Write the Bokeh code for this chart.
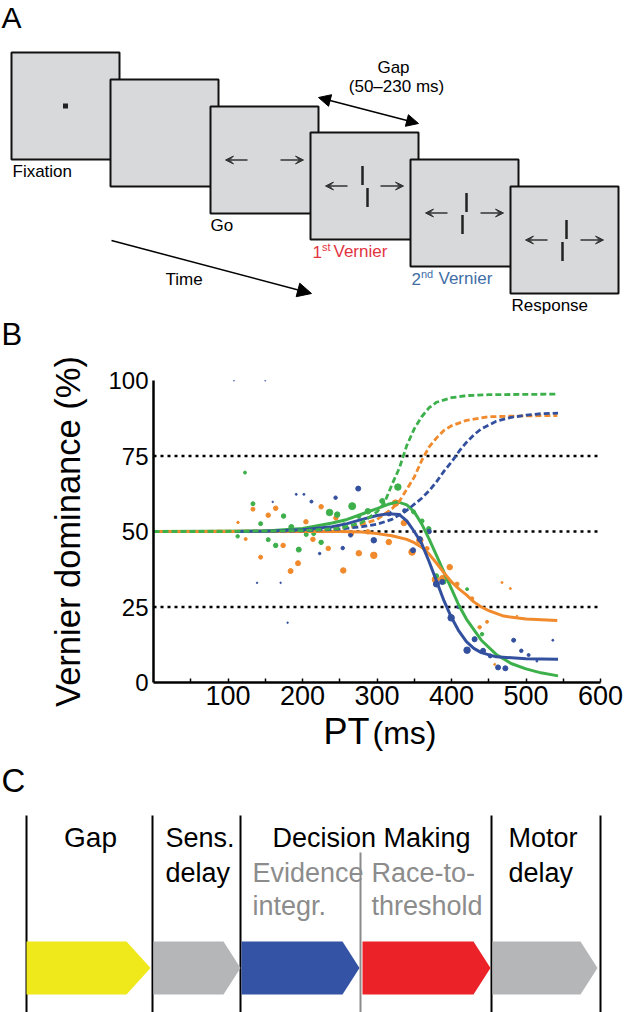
from bokeh.plotting import figure
from bokeh.models import Range1d, FixedTicker, Arrow, NormalHead, VeeHead
from bokeh.core.properties import value
from bokeh.embed import file_html
from bokeh.resources import INLINE

FONT = "Liberation Sans"
ORANGE = "#F08A2C"
GREEN = "#3DB04B"
BLUE = "#33509F"
W = 638

# ---------------- Panel B data ----------------
green_pt_x = [113, 122.8, 133.5, 143.8, 154, 164, 174.6, 185, 195, 205, 215, 225, 236.3, 246.6, 255.5,
              266.7, 275.6, 287.7, 307, 328, 349, 360.5, 369.5, 379.7, 389.6, 399.5, 420.9, 431, 441]
green_pt_y = [48.4, 69.5, 59.2, 52.6, 47.3, 45.4, 55.1, 51.5, 44, 49, 49.3, 46.4, 56.3, 55.6, 52.3,
              58.4, 55, 56.7, 60.1, 64.7, 56.5, 53.5, 50.9, 35.3, 33.3, 21.6, 30.9, 14.5, 16]
green_pt_s = [3.5, 3, 4, 4, 4, 4.5, 4.5, 5, 5, 4, 4, 4.5, 6.5, 5.5, 3.5,
              7, 4, 5.5, 5, 6.5, 4, 4, 4.5, 4.5, 4.5, 5, 3, 4, 3.5]

orange_pt_x = [113.4, 123.7, 133.5, 143.8, 154, 164, 174, 184, 194, 204.6, 214, 225, 234.6, 244.8,
               254.7, 265.4, 275.6, 287.7, 295.7, 315.8, 324.8, 336, 347, 357.5, 367.3, 378.4, 388.2,
               397.6, 407.5, 427.6, 437.8, 447.7, 458, 467.8, 479, 487.8]
orange_pt_y = [53, 47.5, 57.4, 41.5, 55.4, 57.7, 45.4, 36.9, 39.5, 53.2, 47.4, 58.2, 44.4, 54.5,
               37.1, 49.3, 42.8, 49.9, 42.1, 46.5, 59.4, 52.8, 43.2, 47.1, 44.4, 34.1, 34.4,
               38.2, 32.6, 27.8, 18.3, 20.1, 6, 33.1, 31.1, 22]
orange_pt_s = [2.5, 3, 4, 4, 4.5, 4.5, 4.5, 5, 5, 4.5, 4.5, 4.5, 4.5, 4.5,
               5.5, 5, 5.5, 4.5, 6.5, 5.5, 6.5, 5.5, 6.5, 6.5, 4, 6.5, 6.5,
               5.5, 4, 3.5, 3.5, 3, 2, 2, 2, 1.5]

blue_pt_x = [108, 150, 139, 170.6, 180, 160, 191.6, 201.9, 212, 223, 244.4, 254, 264.5, 274.8, 295.7,
             316, 337, 348.4, 357.5, 370, 379.7, 387.4, 399.5, 409.7, 420.9, 431, 442.4, 452, 462.5,
             472.3, 483.4, 493.7, 503.5, 514.6, 536]
blue_pt_y = [100, 100, 33, 33, 19.8, 59.8, 62.3, 62.3, 59.9, 42.7, 61.2, 44.5, 48.8, 64.2, 47.1,
             56, 56.9, 43.8, 47.5, 50, 32.6, 33.3, 21.4, 25.1, 10.7, 14.3, 10.5, 8.8, 5,
             4.7, 14, 10.5, 9.1, 7.1, 14]
blue_pt_s = [1.2, 1.2, 1.5, 1.5, 1.5, 1.5, 2, 2, 3, 2.5, 3.5, 3.5, 4, 5, 5.5,
             5, 4, 5, 5, 4.5, 6, 5, 6.5, 4, 6.5, 5, 5, 4, 5,
             5, 4, 3.5, 3, 2, 2]

green_solid_x = [0, 150, 200, 240, 260, 280, 300, 315, 328, 340, 350, 360, 370, 380, 390, 400, 410,
                 420, 430, 440, 460, 480, 500, 520, 543]
green_solid_y = [50, 50.2, 51, 52.8, 54, 55.8, 57.6, 59, 59.8, 58.8, 56.5, 52.5, 47.5, 42, 36.5, 31,
                 25.5, 21, 17.5, 14, 9.3, 6.3, 4.5, 3.2, 2.2]
orange_solid_x = [0, 250, 280, 300, 320, 340, 350, 360, 370, 380, 390, 400, 410, 420, 430, 440, 450,
                  470, 500, 542]
orange_solid_y = [50, 50, 49.8, 49.3, 48.6, 47.4, 46.3, 44.8, 42.5, 39.5, 36.3, 33.3, 31, 29, 26.7,
                  25, 23.8, 22, 21, 20.5]
blue_solid_x = [110, 150, 200, 240, 260, 280, 300, 315, 330, 340, 350, 360, 370, 380, 390, 400, 410,
                420, 430, 440, 460, 500, 543]
blue_solid_y = [50, 50.1, 50.6, 51.6, 52.6, 54, 55.3, 55.9, 55.6, 53.5, 50, 46, 40, 33.5, 27, 21.5,
                17, 13.5, 11.3, 9.9, 8.5, 7.9, 7.7]

green_dash_x = [0, 100, 200, 250, 280, 300, 310, 320, 330, 340, 350, 360, 370, 380, 400, 420, 450,
                500, 543]
green_dash_y = [50, 50, 50.3, 51, 53, 56.5, 59.5, 65.5, 71, 78.5, 84, 88, 91, 92.8, 94.3, 95, 95.3,
                95.4, 95.5]
orange_dash_x = [0, 200, 250, 270, 300, 320, 330, 340, 350, 360, 370, 380, 390, 400, 420, 450, 500, 542]
orange_dash_y = [50, 50.2, 51, 51.6, 54, 57.5, 60, 64, 68, 73.5, 78, 81, 83.5, 85, 86.8, 88, 88.3, 88.4]
blue_dash_x = [110, 200, 250, 280, 300, 320, 340, 360, 370, 380, 390, 400, 410, 420, 430, 440, 460,
               480, 500, 520, 543]
blue_dash_y = [50, 50.2, 50.8, 51.6, 52.4, 54, 57, 61, 63.5, 66.5, 70, 73, 76.5, 79.5, 82, 84, 86.5,
               87.8, 88.5, 89, 89.2]

ref_levels = [25, 50, 75]
x_ticks = [50, 100, 150, 200, 250, 300, 350, 400, 450, 500, 550, 600]
y_ticks = [0, 25, 50, 75, 100]

# ---------------- Panel A data ----------------
screen_left = [11, 110, 210, 310, 410, 510]
screen_top = [52, 79, 106, 132, 159, 186]
screen_size = 108
arrow_screens = [2, 3, 4, 5]
vernier_screens = [3, 4, 5]
vernier_upper_dx = [-2, 2, 2]
vernier_lower_dx = [3, -2, -2]

# ---------------- Panel C data ----------------
stage_edges = [26, 152, 240, 491, 600]
sub_edge = 360
stage_arrows = [(26, 150, "#EFE81A"), (153, 240, "#B4B6B7"), (241, 359, "#3553A4"),
                (362, 490, "#EC2229"), (492, 597, "#B4B6B7")]


def diagram(y0, y1, **kw):
    p = figure(width=W, height=y1 - y0, x_range=Range1d(0, W), y_range=Range1d(y1, y0),
               output_backend="svg", toolbar_location=None, min_border=0,
               x_axis_location=None, y_axis_location=None, **kw)
    p.grid.visible = False
    p.outline_line_color = None
    return p


def txt(p, x, base, s, size, color="black", align="left"):
    # place text by its baseline: shift to the middle of the em box
    p.text(x=[x], y=[base - 0.35 * size], text=[s], text_font=value(FONT),
           text_font_size=value(f"{size}px"), text_color=color, text_align=align,
           text_baseline="middle")


# ================= Panel A (page y 0..352) =================
pa = diagram(0, 352)
txt(pa, 1, 27, "A", 30)
lefts = screen_left
rights = [l + screen_size for l in screen_left]
tops = screen_top
bottoms = [t + screen_size - 1 for t in screen_top]
pa.quad(left=lefts, right=rights, top=tops, bottom=bottoms, fill_color="#D8D9DB",
        line_color="#111111", line_width=2)
cx = [(l + r) / 2 for l, r in zip(lefts, rights)]
cy = [(t + b) / 2 for t, b in zip(tops, bottoms)]
pa.rect(x=[cx[0]], y=[cy[0]], width=5, height=5, fill_color="#222222", line_color=None)
for i in arrow_screens:
    pa.add_layout(Arrow(x_start=cx[i] - 17, y_start=cy[i], x_end=cx[i] - 39, y_end=cy[i],
                        line_color="#333333", line_width=1.5,
                        end=VeeHead(size=8, fill_color="#333333", line_color="#333333")))
    pa.add_layout(Arrow(x_start=cx[i] + 16, y_start=cy[i], x_end=cx[i] + 39, y_end=cy[i],
                        line_color="#333333", line_width=1.5,
                        end=VeeHead(size=8, fill_color="#333333", line_color="#333333")))
vx0, vx1, vy0, vy1 = [], [], [], []
for k, i in enumerate(vernier_screens):
    vx0 += [cx[i] + vernier_upper_dx[k], cx[i] + vernier_lower_dx[k]]
    vx1 += [cx[i] + vernier_upper_dx[k], cx[i] + vernier_lower_dx[k]]
    vy0 += [cy[i] - 20, cy[i] + 2]
    vy1 += [cy[i] - 1, cy[i] + 21]
pa.segment(x0=vx0, y0=vy0, x1=vx1, y1=vy1, line_color="#222222", line_width=2.5)

txt(pa, 12, 177, "Fixation", 17)
txt(pa, 210, 231, "Go", 17)
txt(pa, 165, 285, "Time", 17)
pa.add_layout(Arrow(x_start=111, y_start=240, x_end=311, y_end=293, line_color="black", line_width=1.5,
                    end=NormalHead(size=14, fill_color="black", line_color="black")))
txt(pa, 393, 73, "Gap", 17, align="center")
txt(pa, 396, 92, "(50\u2013230 ms)", 17, align="center")
pa.add_layout(Arrow(x_start=318, y_start=97, x_end=418, y_end=123, line_color="black", line_width=1.5,
                    start=NormalHead(size=12, fill_color="black", line_color="black"),
                    end=NormalHead(size=12, fill_color="black", line_color="black")))
RED_T = "#E2343F"
BLUE_T = "#3F6EA6"
txt(pa, 312, 257, "1", 17, RED_T)
txt(pa, 321.5, 250, "st", 11, RED_T)
txt(pa, 333, 257, "Vernier", 17, RED_T)
txt(pa, 411, 284, "2", 17, BLUE_T)
txt(pa, 420.5, 277, "nd", 11, BLUE_T)
txt(pa, 438, 284, "Vernier", 17, BLUE_T)
txt(pa, 511, 311, "Response", 17)
txt(pa, 1, 345, "B", 31)

# ================= Panel B (page y 352..717) =================
pb = figure(width=W, height=365, x_range=Range1d(0, 600), y_range=Range1d(0, 100),
            output_backend="svg", toolbar_location=None,
            min_border_left=153, min_border_right=38, min_border_top=28, min_border_bottom=35)
pb.grid.visible = False
pb.outline_line_color = None
for ax in (pb.xaxis[0], pb.yaxis[0]):
    ax.axis_line_width = 2.5
    ax.axis_line_color = "black"
    ax.minor_tick_line_color = None
    ax.major_label_text_font = FONT
    ax.major_label_text_color = "black"
pb.xaxis.ticker = FixedTicker(ticks=x_ticks)
pb.xaxis.major_label_overrides = {t: ("" if t % 100 else str(t)) for t in x_ticks}
pb.xaxis.major_tick_in = 4
pb.xaxis.major_tick_out = 0
pb.xaxis.major_tick_line_width = 1.5
pb.xaxis.major_label_text_font_size = "27px"
pb.xaxis.major_label_standoff = 3
pb.yaxis.ticker = FixedTicker(ticks=y_ticks)
pb.yaxis.major_tick_in = 0
pb.yaxis.major_tick_out = 0
pb.yaxis.major_label_text_font_size = "24px"
pb.yaxis.major_label_standoff = 5
pb.yaxis.axis_label = "Vernier dominance (%)"
pb.yaxis.axis_label_text_font = FONT
pb.yaxis.axis_label_text_font_style = "normal"
pb.yaxis.axis_label_text_font_size = "34.5px"
pb.yaxis.axis_label_text_color = "black"
pb.yaxis.axis_label_standoff = 18

pb.segment(x0=[0] * len(ref_levels), x1=[597] * len(ref_levels), y0=ref_levels, y1=ref_levels,
           line_color="black", line_width=2.5, line_dash="3 4")

pb.scatter(orange_pt_x, orange_pt_y, size=orange_pt_s, color=ORANGE)
pb.scatter(green_pt_x, green_pt_y, size=green_pt_s, color=GREEN)
pb.scatter(blue_pt_x, blue_pt_y, size=blue_pt_s, color=BLUE)

pb.line(green_solid_x, green_solid_y, line_color=GREEN, line_width=3)
pb.line(orange_solid_x, orange_solid_y, line_color=ORANGE, line_width=3)
pb.line(orange_dash_x, orange_dash_y, line_color=ORANGE, line_width=2.8, line_dash="6 3")
pb.line(blue_solid_x, blue_solid_y, line_color=BLUE, line_width=3)
pb.line(blue_dash_x, blue_dash_y, line_color=BLUE, line_width=2.8, line_dash="6 3")
pb.line(green_dash_x, green_dash_y, line_color=GREEN, line_width=2.8, line_dash="6 3")

# ================= Panel C (page y 705..1012, overlapping B's empty bottom strip) =================
C_TOP = 705
pc = diagram(C_TOP, 1012, styles={"margin-top": f"{C_TOP - 717}px"})
pc.background_fill_color = None
pc.border_fill_color = None
txt(pc, 323, 744, "PT", 36)
txt(pc, 372, 744, "(ms)", 32)
txt(pc, 1, 792, "C", 33)
pc.segment(x0=stage_edges, x1=stage_edges, y0=[815] * len(stage_edges), y1=[1012] * len(stage_edges),
           line_color="black", line_width=2)
pc.segment(x0=[sub_edge], x1=[sub_edge], y0=[852], y1=[1012], line_color="#8A8A8A", line_width=2)
xs, ys, cols = [], [], []
for x0, tip, col in stage_arrows:
    body = tip - (24 if x0 == 26 else 17)
    xs.append([x0, body, tip, body, x0])
    ys.append([941, 941, 967.5, 994, 994])
    cols.append(col)
pc.patches(xs=xs, ys=ys, fill_color=cols, line_color=None)

txt(pc, 90, 847, "Gap", 28, align="center")
txt(pc, 165, 847, "Sens.", 27)
txt(pc, 165, 882, "delay", 27)
txt(pc, 272, 847, "Decision Making", 27)
GRAY_T = "#8C8C8C"
txt(pc, 252, 882, "Evidence", 27, GRAY_T)
txt(pc, 252, 915, "integr.", 27, GRAY_T)
txt(pc, 371, 882, "Race-to-", 27, GRAY_T)
txt(pc, 371, 915, "threshold", 27, GRAY_T)
txt(pc, 508, 847, "Motor", 27)
txt(pc, 508, 882, "delay", 27)

open("out.html", "w").write(file_html([pa, pb, pc], INLINE))
